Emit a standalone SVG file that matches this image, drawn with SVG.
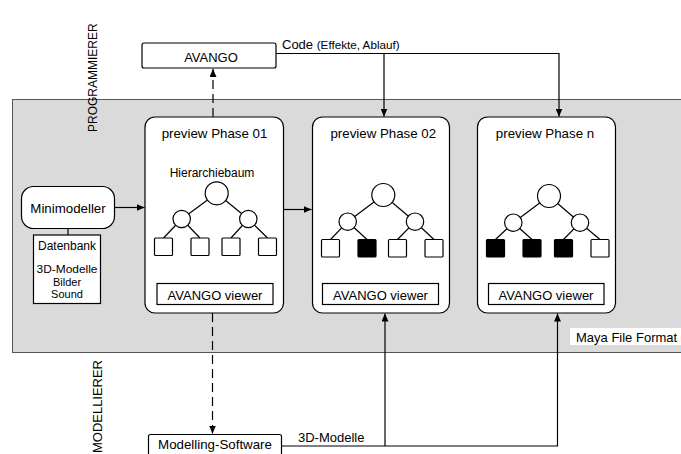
<svg xmlns="http://www.w3.org/2000/svg" width="681" height="454" viewBox="0 0 681 454">
<style>
text{font-family:"Liberation Sans",Arial,sans-serif;fill:#000}
.box{fill:#fff;stroke:#000;stroke-width:1.2}
.ln{fill:none;stroke:#000;stroke-width:1.2}
.dash{fill:none;stroke:#000;stroke-width:1.2;stroke-dasharray:9,5}
.node{fill:#fff;stroke:#000;stroke-width:1.2}
.full{fill:#000;stroke:#000;stroke-width:1.2}
.tl{stroke:#000;stroke-width:1.2}
</style>
<defs>
<marker id="ah" markerWidth="8" markerHeight="7" refX="8" refY="3.5" orient="auto" markerUnits="userSpaceOnUse">
<path d="M0,0 L8,3.5 L0,7 z" fill="#000"/>
</marker>
</defs>
<rect id="band" x="12.5" y="99.5" width="680" height="253" fill="#dadada" stroke="#555" stroke-width="1"/>
<g id="label-programmierer"><text transform="translate(97,132) rotate(-90)" font-size="12">PROGRAMMIERER</text></g>
<g id="label-modellierer"><text transform="translate(101.5,453) rotate(-90)" font-size="12" textLength="93" lengthAdjust="spacingAndGlyphs">MODELLIERER</text></g>

<g id="connectors">
<line class="dash" x1="213" y1="117" x2="213" y2="69" marker-end="url(#ah)"/>
<polyline class="ln" points="276,53.5 559,53.5 559,116.5" marker-end="url(#ah)"/>
<line class="ln" x1="384" y1="53.5" x2="384" y2="116.5" marker-end="url(#ah)"/>
<line class="ln" x1="114.5" y1="207.5" x2="144.5" y2="207.5" marker-end="url(#ah)"/>
<line class="ln" x1="283.5" y1="209.5" x2="311.5" y2="209.5" marker-end="url(#ah)"/>
<line class="ln" x1="68" y1="228" x2="68" y2="235"/>
<line class="dash" x1="212.5" y1="313" x2="212.5" y2="433.5" marker-end="url(#ah)"/>
<polyline class="ln" points="282,446 557.5,446 557.5,313.5" marker-end="url(#ah)"/>
<line class="ln" x1="385" y1="446" x2="385" y2="313.5" marker-end="url(#ah)"/>
<text x="282" y="48.5" font-size="13">Code <tspan font-size="11.7">(Effekte, Ablauf)</tspan></text>
<text x="298" y="441.5" font-size="13">3D-Modelle</text>
</g>

<g id="avango">
<rect class="box" x="142" y="43" width="134" height="25" rx="2"/>
<text x="211" y="61.5" font-size="13" text-anchor="middle">AVANGO</text>
</g>

<g id="minimodeller">
<rect class="box" x="21.5" y="186.5" width="93" height="42" rx="12"/>
<text x="68" y="213" font-size="13.3" text-anchor="middle">Minimodeller</text>
</g>

<g id="datenbank">
<rect class="box" x="33.5" y="235" width="67" height="68.5"/>
<text x="67" y="250" font-size="12" text-anchor="middle">Datenbank</text>
<text x="67" y="273" font-size="11" text-anchor="middle" textLength="61" lengthAdjust="spacingAndGlyphs">3D-Modelle</text>
<text x="67" y="285.6" font-size="11" text-anchor="middle">Bilder</text>
<text x="67" y="298.2" font-size="11" text-anchor="middle">Sound</text>
</g>

<g id="phase01">
<rect class="box" x="145" y="117" width="138.5" height="196" rx="10"/>
<text x="214.5" y="138" font-size="13.3" text-anchor="middle">preview Phase 01</text>
<text x="212" y="176.5" font-size="12" text-anchor="middle">Hierarchiebaum</text>
<line class="tl" x1="216.7" y1="193.3" x2="181.7" y2="219"/>
<line class="tl" x1="216.7" y1="193.3" x2="248.3" y2="219"/>
<line class="tl" x1="181.7" y1="219" x2="163.5" y2="238"/>
<line class="tl" x1="181.7" y1="219" x2="200" y2="238"/>
<line class="tl" x1="248.3" y1="219" x2="231" y2="238"/>
<line class="tl" x1="248.3" y1="219" x2="267.5" y2="238"/>
<circle class="node" cx="216.7" cy="193.3" r="11.5"/>
<circle class="node" cx="181.7" cy="219" r="8.7"/>
<circle class="node" cx="248.3" cy="219" r="8.7"/>
<rect class="node" x="154.5" y="238" width="18" height="17.5" rx="1"/>
<rect class="node" x="191" y="238" width="18" height="17.5" rx="1"/>
<rect class="node" x="222" y="238" width="18" height="17.5" rx="1"/>
<rect class="node" x="258.5" y="238" width="18" height="17.5" rx="1"/>
<rect class="box" x="157" y="283.5" width="116" height="21"/>
<text x="215" y="299.5" font-size="13" text-anchor="middle">AVANGO viewer</text>
</g>

<g id="phase02">
<rect class="box" x="312.5" y="117" width="137" height="196" rx="10"/>
<text x="383.3" y="138" font-size="13.3" text-anchor="middle">preview Phase 02</text>
<line class="tl" x1="383.3" y1="195" x2="347.7" y2="221.7"/>
<line class="tl" x1="383.3" y1="195" x2="415" y2="221.7"/>
<line class="tl" x1="347.7" y1="221.7" x2="330.5" y2="239.5"/>
<line class="tl" x1="347.7" y1="221.7" x2="367" y2="239.5"/>
<line class="tl" x1="415" y1="221.7" x2="397.5" y2="239.5"/>
<line class="tl" x1="415" y1="221.7" x2="434" y2="239.5"/>
<circle class="node" cx="383.3" cy="195" r="11.5"/>
<circle class="node" cx="347.7" cy="221.7" r="8.7"/>
<circle class="node" cx="415" cy="221.7" r="8.7"/>
<rect class="node" x="321.5" y="239.5" width="18" height="17.5" rx="1"/>
<rect class="full" x="358" y="239.5" width="18" height="17.5" rx="1"/>
<rect class="node" x="388.5" y="239.5" width="18" height="17.5" rx="1"/>
<rect class="node" x="425" y="239.5" width="18" height="17.5" rx="1"/>
<rect class="box" x="322.5" y="283.5" width="116" height="21"/>
<text x="380.5" y="299.5" font-size="13" text-anchor="middle">AVANGO viewer</text>
</g>

<g id="phasen">
<rect class="box" x="477.5" y="117" width="138" height="196" rx="10"/>
<text x="545" y="138" font-size="13.3" text-anchor="middle">preview Phase n</text>
<line class="tl" x1="549" y1="196" x2="513.3" y2="222.7"/>
<line class="tl" x1="549" y1="196" x2="580" y2="222.7"/>
<line class="tl" x1="513.3" y1="222.7" x2="495.5" y2="239.5"/>
<line class="tl" x1="513.3" y1="222.7" x2="532" y2="239.5"/>
<line class="tl" x1="580" y1="222.7" x2="563.5" y2="239.5"/>
<line class="tl" x1="580" y1="222.7" x2="600" y2="239.5"/>
<circle class="node" cx="549" cy="196" r="11.5"/>
<circle class="node" cx="513.3" cy="222.7" r="8.7"/>
<circle class="node" cx="580" cy="222.7" r="8.7"/>
<rect class="full" x="486.5" y="239.5" width="18" height="17.5" rx="1"/>
<rect class="full" x="523" y="239.5" width="18" height="17.5" rx="1"/>
<rect class="full" x="554.5" y="239.5" width="18" height="17.5" rx="1"/>
<rect class="node" x="591" y="239.5" width="18" height="17.5" rx="1"/>
<rect class="box" x="488.5" y="283.5" width="115.5" height="21"/>
<text x="546" y="299.5" font-size="13" text-anchor="middle">AVANGO viewer</text>
</g>

<g id="maya">
<rect x="570" y="328" width="115" height="17" fill="#fff"/>
<text x="576" y="341.5" font-size="13">Maya File Format</text>
</g>

<g id="modelling">
<rect class="box" x="148.5" y="434.5" width="133" height="30" rx="2"/>
<text x="215" y="448.5" font-size="13.3" text-anchor="middle">Modelling-Software</text>
</g>
</svg>
